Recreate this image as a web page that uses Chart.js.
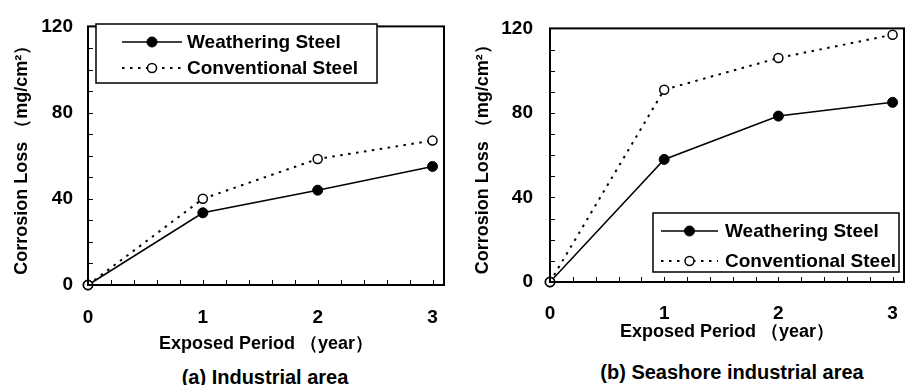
<!DOCTYPE html>
<html>
<head>
<meta charset="utf-8">
<script src="https://cdn.jsdelivr.net/npm/chart.js@4/dist/chart.umd.min.js"></script>
<style>
  html, body { margin: 0; padding: 0; background: #fff; width: 907px; height: 385px; overflow: hidden; }
  .wrap { position: absolute; top: 0; height: 360px; }
  .caption { position: absolute; font: bold 20px 'Liberation Sans', Arial, sans-serif; color: #000;
             white-space: nowrap; transform: translateX(-50%); line-height: 24px; }
</style>
</head>
<body>
<div class="wrap" style="left:0;width:450px"><canvas id="chartA"></canvas></div>
<div class="wrap" style="left:450px;width:460px"><canvas id="chartB"></canvas></div>
<div class="caption" style="left:265px;top:365px">(a) Industrial area</div>
<div class="caption" style="left:732px;top:360px">(b) Seashore industrial area</div>

<script>
/* ---- data ---- */
const years = [0, 1, 2, 3];
const weatheringIndustrial = [0, 33.5, 44, 55];
const conventionalIndustrial = [0, 40, 58.5, 67];
const weatheringSeashore = [0, 58, 78.5, 85];
const conventionalSeashore = [0, 91, 106, 117];
const seriesLabels = ['Weathering Steel', 'Conventional Steel'];
const yTickLabels = [0, 40, 80, 120];
const xTickLabels = [0, 1, 2, 3];
const xMinorStep = 0.2;   // minor tick spacing on the x axis
const yMinorStep = 10;    // minor tick spacing on the y axis

const FONT = "'Liberation Sans', Arial, sans-serif";
Chart.defaults.font.family = FONT;
Chart.defaults.font.weight = 'bold';
Chart.defaults.color = '#000';

const near = (v, arr) => arr.find(a => Math.abs(a - v) < 1e-6);
const stepTicks = (from, to, step) => {
  const out = [];
  const n = Math.round((to - from) / step);
  for (let i = 0; i <= n; i++) out.push({ value: +(from + i * step).toFixed(6) });
  return out;
};

/* frame, inward minor ticks and a legend box drawn inside the plot */
const framePlugin = {
  id: 'frame',
  afterDraw(chart, args, opts) {
    const { ctx, chartArea: a } = chart;
    const xs = chart.scales.x, ys = chart.scales.y;
    ctx.save();
    ctx.strokeStyle = '#000';
    ctx.lineWidth = 1;
    ctx.beginPath();
    xs.ticks.forEach(t => {
      const px = Math.round(xs.getPixelForValue(t.value)) + 0.5;
      ctx.moveTo(px, a.bottom); ctx.lineTo(px, a.bottom - 5);
    });
    ys.ticks.forEach(t => {
      const py = Math.round(ys.getPixelForValue(t.value)) + 0.5;
      ctx.moveTo(a.left, py); ctx.lineTo(a.left + 5, py);
    });
    ctx.stroke();
    ctx.lineWidth = 2;
    ctx.strokeRect(a.left, a.top, a.right - a.left, a.bottom - a.top);

    // legend
    const b = opts.box;
    ctx.lineWidth = 1.5;
    ctx.fillStyle = '#fff';
    ctx.fillRect(b.x, b.y, b.w, b.h);
    ctx.strokeRect(b.x, b.y, b.w, b.h);
    ctx.font = 'bold 19px ' + FONT;
    ctx.textBaseline = 'middle';
    chart.data.datasets.slice().sort((p, q) => p.legendIndex - q.legendIndex).forEach((ds, i) => {
      const y = b.y + b.row0 + i * b.rowGap;
      ctx.save();
      ctx.strokeStyle = '#000';
      ctx.lineWidth = ds.borderWidth;
      ctx.setLineDash(ds.borderDash || []);
      ctx.beginPath();
      ctx.moveTo(b.x + b.l0, y); ctx.lineTo(b.x + b.l1, y);
      ctx.stroke();
      ctx.setLineDash([]);
      ctx.beginPath();
      ctx.arc(b.x + (b.l0 + b.l1) / 2, y, ds.pointRadius, 0, Math.PI * 2);
      ctx.fillStyle = ds.pointBackgroundColor;
      ctx.fill();
      ctx.lineWidth = ds.pointBorderWidth;
      ctx.stroke();
      ctx.restore();
      ctx.fillStyle = '#000';
      ctx.fillText(ds.label, b.x + b.tx, y + 1);
    });
    ctx.restore();
  }
};

function makeSeries(weathering, conventional) {
  return [
    { label: seriesLabels[0], data: weathering, legendIndex: 0, order: 1,
      borderColor: '#000', borderWidth: 1.5, pointRadius: 5, pointBorderWidth: 1,
      pointBackgroundColor: '#000', pointBorderColor: '#000', clip: false, tension: 0 },
    { label: seriesLabels[1], data: conventional, legendIndex: 1, order: 0,
      borderColor: '#000', borderWidth: 2, borderDash: [2.5, 5.5], pointRadius: 4.5, pointBorderWidth: 1.5,
      pointBackgroundColor: '#fff', pointBorderColor: '#000', clip: false, tension: 0 }
  ];
}

function makeChart(id, weathering, conventional, cfg) {
  return new Chart(document.getElementById(id), {
    type: 'line',
    data: { labels: years, datasets: makeSeries(weathering, conventional) },
    options: {
      responsive: true, maintainAspectRatio: false, animation: false,
      layout: { padding: { top: cfg.top, right: cfg.right, bottom: 0, left: 0 } },
      plugins: { legend: { display: false }, tooltip: { enabled: false }, frame: { box: cfg.box } },
      scales: {
        x: {
          type: 'linear', min: 0, max: 3.1,
          grid: { display: false, drawTicks: false }, border: { display: false },
          afterBuildTicks: s => { s.ticks = stepTicks(0, xTickLabels[xTickLabels.length - 1], xMinorStep); },
          ticks: { autoSkip: false, maxRotation: 0, minRotation: 0,
                   padding: cfg.xTickPad, font: { size: 19, weight: 'bold' },
                   callback: v => { const n = near(v, xTickLabels); return n === undefined ? '' : String(n); } },
          title: { display: true, text: 'Exposed Period （year）', font: { size: 18, weight: 'bold' },
                   padding: { top: 0, bottom: cfg.xTitlePad } },
          afterFit: s => { s.height = cfg.xHeight; s.paddingLeft = 0; s.paddingRight = 0; }
        },
        y: {
          min: 0, max: 120,
          grid: { display: false, drawTicks: false }, border: { display: false },
          afterBuildTicks: s => { s.ticks = stepTicks(0, yTickLabels[yTickLabels.length - 1], yMinorStep); },
          ticks: { autoSkip: false, padding: cfg.yTickPad,
                   font: { size: 19, weight: 'bold' },
                   callback: v => { const n = near(v, yTickLabels); return n === undefined ? '' : String(n); } },
          title: { display: true, text: 'Corrosion Loss （mg/cm²）', font: { size: 18, weight: 'bold' },
                   padding: { top: cfg.yTitlePad, bottom: 0 } },
          afterFit: s => { s.width = cfg.yWidth; }
        }
      }
    },
    plugins: [framePlugin]
  });
}

makeChart('chartA', weatheringIndustrial, conventionalIndustrial, {
  top: 20, right: 2, xHeight: 75, yWidth: 88, xTickPad: 21, xTitlePad: 5, yTickPad: 15, yTitlePad: 11,
  box: { x: 96, y: 24, w: 281, h: 59, row0: 18, rowGap: 26, l0: 26, l1: 86, tx: 91 }
});
makeChart('chartB', weatheringSeashore, conventionalSeashore, {
  top: 14, right: 0, xHeight: 78, yWidth: 100, xTickPad: 20, xTitlePad: 17, yTickPad: 17, yTitlePad: 22,
  box: { x: 203, y: 213, w: 246, h: 59, row0: 18, rowGap: 30, l0: 8, l1: 65, tx: 72 }
});
</script>
</body>
</html>
